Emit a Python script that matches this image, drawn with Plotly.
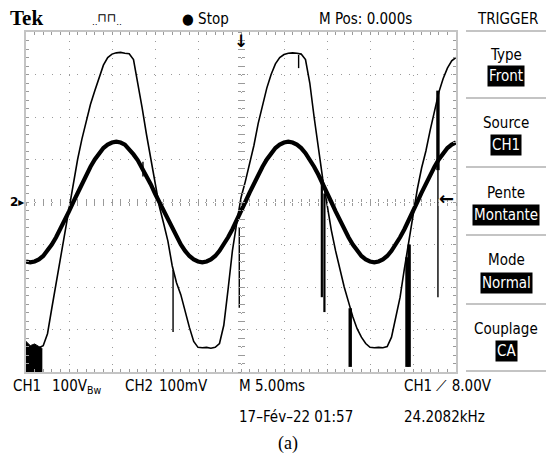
import plotly.graph_objects as go

# ---------------- data ----------------
# time base: 5 ms/div, 10 div, trigger at centre (M Pos 0.000 s)
t_ms = [round(-25 + 0.5 * i, 1) for i in range(101)]

# CH1 (100 V/div) in volts
ch1_v = [
    -342, -343, -342, -343, -338, -310, -250, -190, -135, -78,
    -18, 42, 100, 148, 190, 230, 262, 295, 322, 340,
    348, 351, 352, 350, 349, 335, 280, 222, 160, 100,
    42, -10, -50, -92, -150, -190, -218, -258, -295, -328,
    -342, -343, -342, -344, -342, -333, -290, -205, -115, -50,
    10, 48, 88, 133, 185, 230, 268, 300, 325, 340,
    347, 350, 351, 350, 348, 335, 280, 200, 125, 55,
    -5, -66, -115, -160, -200, -235, -270, -298, -318, -333,
    -342, -343, -342, -343, -340, -318, -270, -224, -157, -92,
    -25, 30, 80, 120, 169, 215, 258, 290, 315, 332,
    340,
]

# CH2 (100 mV/div) in millivolts
ch2_mv = [
    -140, -142, -140, -135, -127, -115, -100, -83, -64, -44,
    -22, 0, 22, 44, 64, 83, 100, 115, 127, 135,
    140, 142, 140, 135, 124, 112, 98, 80, 62, 42,
    20, 0, -22, -44, -64, -83, -100, -115, -127, -135,
    -140, -142, -140, -135, -127, -115, -100, -83, -64, -44,
    -22, 0, 22, 44, 64, 83, 100, 115, 127, 135,
    140, 142, 140, 135, 127, 115, 100, 83, 64, 44,
    22, 0, -22, -44, -64, -83, -100, -115, -127, -135,
    -140, -142, -140, -135, -127, -115, -100, -83, -64, -44,
    -22, 0, 22, 44, 64, 83, 100, 115, 127, 135,
    140,
]

# switching glitches (vertical spikes): time, start value, end value (V)
spike_thin_t = [-11.4, -7.9, -0.2, 6.7, 22.9]
spike_thin_top = [95, -160, -59, 346, 80]
spike_thin_bot = [60, -306, -249, 315, -224]

spike_mid_t = [9.4, 9.7]
spike_mid_top = [60, 20]
spike_mid_bot = [-224, -259]

spike_thick_t = [12.7, 19.3, 19.55, 22.9]
spike_thick_top = [-250, -130, -100, 262]
spike_thick_bot = [-388, -388, -388, 75]

# noise blob of CH1 at the left bottom corner
blob_t = [-25, -24.5, -24, -23.5, -23.1]
blob_top = [-328, -338, -334, -340, -345]
blob_bot = [-400, -400, -400, -400, -400]

trig_level_v = 8.0

# ---------------- helpers ----------------
L, R, T, B = 26, 102, 32, 82
W, H = 558, 454
PW, PH = W - L - R, H - T - B


def px(X):
    return (X - L) / PW


def py(Y):
    return (H - B - Y) / PH


def segs(ts, tops, bots):
    xs, ys = [], []
    for a, b, c in zip(ts, tops, bots):
        xs += [a, a, None]
        ys += [b, c, None]
    return xs, ys


fig = go.Figure()

fig.add_trace(go.Scatter(x=t_ms, y=ch2_mv, mode="lines",
                         line=dict(color="black", width=4.2), hoverinfo="skip"))
fig.add_trace(go.Scatter(x=t_ms, y=ch1_v, mode="lines",
                         line=dict(color="black", width=1.6), hoverinfo="skip"))

for ts, tops, bots, w in [
    (spike_thin_t, spike_thin_top, spike_thin_bot, 1.4),
    (spike_mid_t, spike_mid_top, spike_mid_bot, 2.2),
    (spike_thick_t, spike_thick_top, spike_thick_bot, 3.4),
]:
    xs, ys = segs(ts, tops, bots)
    fig.add_trace(go.Scatter(x=xs, y=ys, mode="lines", connectgaps=False,
                             line=dict(color="black", width=w), hoverinfo="skip"))

fig.add_trace(go.Scatter(x=blob_t, y=blob_bot, mode="lines",
                         line=dict(width=0, color="black"), hoverinfo="skip"))
fig.add_trace(go.Scatter(x=blob_t, y=blob_top, mode="lines", fill="tonexty",
                         fillcolor="black", line=dict(width=1, color="black"),
                         hoverinfo="skip"))

# dummy traces so the centre-cross tick axes exist
fig.add_trace(go.Scatter(x=[None], y=[None], xaxis="x2", yaxis="y2", showlegend=False))
fig.add_trace(go.Scatter(x=[None], y=[None], xaxis="x3", yaxis="y3", showlegend=False))

GRID = "#9a9a9a"
BORDER = "#c4c4c4"

axis_common = dict(showticklabels=False, zeroline=False, fixedrange=True)

fig.update_layout(
    width=W, height=H,
    margin=dict(l=L, r=R, t=T, b=B, pad=0),
    paper_bgcolor="white", plot_bgcolor="white",
    showlegend=False,
    xaxis=dict(range=[-25, 25], dtick=5, tick0=0, showgrid=True,
               gridcolor=GRID, gridwidth=1.4, griddash="1.4px,7.1px",
               showline=True, linecolor=BORDER, linewidth=2, mirror="allticks",
               ticks="inside", ticklen=3, tickcolor=GRID, tickwidth=1,
               minor=dict(dtick=1, tick0=0, ticks="inside", ticklen=3,
                          tickcolor=GRID, tickwidth=1, showgrid=False),
               **axis_common),
    yaxis=dict(range=[-400, 400], dtick=100, tick0=0, showgrid=True,
               gridcolor=GRID, gridwidth=1.4, griddash="1.4px,7.1px",
               showline=True, linecolor=BORDER, linewidth=2, mirror="allticks",
               ticks="inside", ticklen=3, tickcolor=GRID, tickwidth=1,
               minor=dict(dtick=20, tick0=0, ticks="inside", ticklen=3,
                          tickcolor=GRID, tickwidth=1, showgrid=False),
               **axis_common),
    xaxis2=dict(range=[-25, 25], overlaying="x", anchor="free", position=0.5,
                dtick=1, tick0=0, ticks="outside", ticklen=3, tickcolor=GRID,
                tickwidth=1, showgrid=False, showline=False, **axis_common),
    xaxis3=dict(range=[-25, 25], overlaying="x", anchor="free", position=0.5,
                dtick=1, tick0=0, ticks="inside", ticklen=3, tickcolor=GRID,
                tickwidth=1, showgrid=False, showline=False, **axis_common),
    yaxis2=dict(range=[-400, 400], overlaying="y", anchor="free", position=0.5,
                dtick=20, tick0=0, ticks="outside", ticklen=3, tickcolor=GRID,
                tickwidth=1, showgrid=False, showline=False, **axis_common),
    yaxis3=dict(range=[-400, 400], overlaying="y", anchor="free", position=0.5,
                dtick=20, tick0=0, ticks="inside", ticklen=3, tickcolor=GRID,
                tickwidth=1, showgrid=False, showline=False, **axis_common),
)

SCOPE = "DejaVu Sans Condensed, Liberation Sans Narrow, DejaVu Sans, sans-serif"
ann = []


def txt(X, Y, s, size=15, anchor="left", family=SCOPE, color="black",
        bg=None, bold=False):
    d = dict(x=px(X), y=py(Y), xref="paper", yref="paper", text=s,
             showarrow=False, xanchor=anchor, yanchor="middle",
             font=dict(family=family, size=size, color=color,
                       weight="bold" if bold else "normal"))
    if bg:
        d.update(bgcolor=bg, borderpad=1)
    ann.append(d)


# top bar
txt(8, 18, "Tek", size=21, family="Liberation Serif, serif", bold=True)
txt(90, 19, "<sub>‥</sub>⊓⊓<sub>‥</sub>", size=12, family="DejaVu Sans")
txt(180, 19, "● Stop", size=15)
txt(317, 19, "M Pos: 0.000s", size=15)
txt(507, 19, "TRIGGER", size=15, anchor="center")

# right menu
menu = [("Type", "Front", 55.5, 75.5), ("Source", "CH1", 123, 145),
        ("Pente", "Montante", 192.5, 215), ("Mode", "Normal", 260, 283),
        ("Couplage", "CA", 329, 351)]
for head, val, y1, y2 in menu:
    txt(506.5, y1, head, size=15, anchor="center")
    txt(506.5, y2, val, size=15, anchor="center", color="white", bg="black")

# bottom bar
txt(11, 386, "CH1", size=15)
txt(50, 386, "100V<sub>Bw</sub>", size=15)
txt(123, 386, "CH2", size=15)
txt(157, 386, "100mV", size=15)
txt(237, 386, "M 5.00ms", size=15)
txt(402, 386, "CH1 ⟋ 8.00V", size=15)
txt(237, 417, "17–Fév–22 01:57", size=15)
txt(402, 417, "24.2082kHz", size=15)
txt(288, 443, "(a)", size=18, anchor="center", family="Liberation Serif, serif")

# channel / trigger markers
txt(8, 202, "2▸", size=12, family="DejaVu Sans", bold=True)
ann.append(dict(x=0, y=400, xref="x", yref="y", text="<b>↓</b>", showarrow=False,
                xanchor="center", yanchor="top", yshift=3,
                font=dict(family="DejaVu Sans", size=17, color="black")))
ann.append(dict(x=25, y=trig_level_v, xref="x", yref="y", text="<b>←</b>",
                showarrow=False, xanchor="right", yanchor="middle",
                font=dict(family="DejaVu Sans", size=18, color="black")))

fig.update_layout(annotations=ann)

# separator lines of the menu
shapes = []
for Y in [31, 98, 167, 235, 304, 371]:
    shapes.append(dict(type="line", xref="paper", yref="paper",
                       x0=px(466), x1=px(546), y0=py(Y), y1=py(Y),
                       line=dict(color="#c4c4c4", width=2)))
fig.update_layout(shapes=shapes)

fig.write_html("out.html")
